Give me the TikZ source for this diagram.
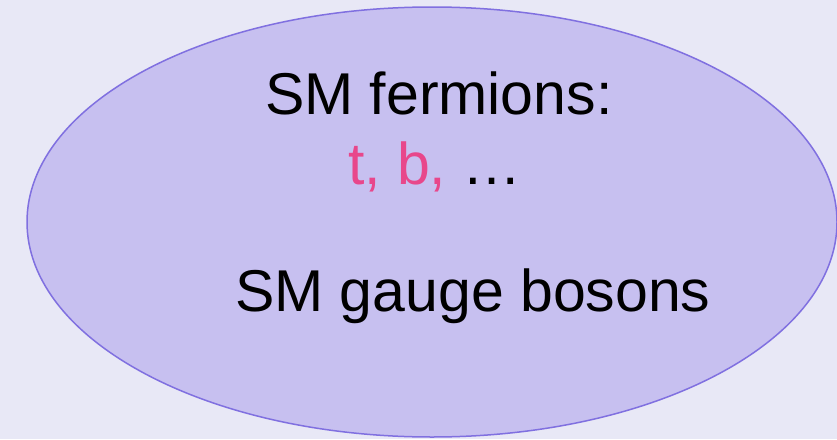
\documentclass[tikz,border=0pt]{standalone}
\usepackage{fontspec}
\setmainfont{Liberation Sans}
\definecolor{bgcol}{HTML}{E8E8F6}
\definecolor{fillcol}{HTML}{C7C0F0}
\definecolor{edgecol}{HTML}{8070E0}
\definecolor{pinkcol}{HTML}{E8478B}
\begin{document}
\begin{tikzpicture}[x=1pt,y=-1pt,
  lbl/.style={inner sep=0pt,outer sep=0pt,anchor=base west,font=\fontsize{59}{61}\selectfont}]
\useasboundingbox (0,0) rectangle (837,439);
\fill[bgcol] (0,0) rectangle (837,439);
\draw[fill=fillcol,draw=edgecol,line width=1.5pt] (432,222) ellipse [x radius=405,y radius=215];
\node[lbl] (ferm) at (265,114) {SM fermions:};
\node[lbl] (tb) at (348,184) {\textcolor{pinkcol}{t, b, }…};
\node[lbl] (gauge) at (235,311) {SM gauge bosons};
\end{tikzpicture}
\end{document}
